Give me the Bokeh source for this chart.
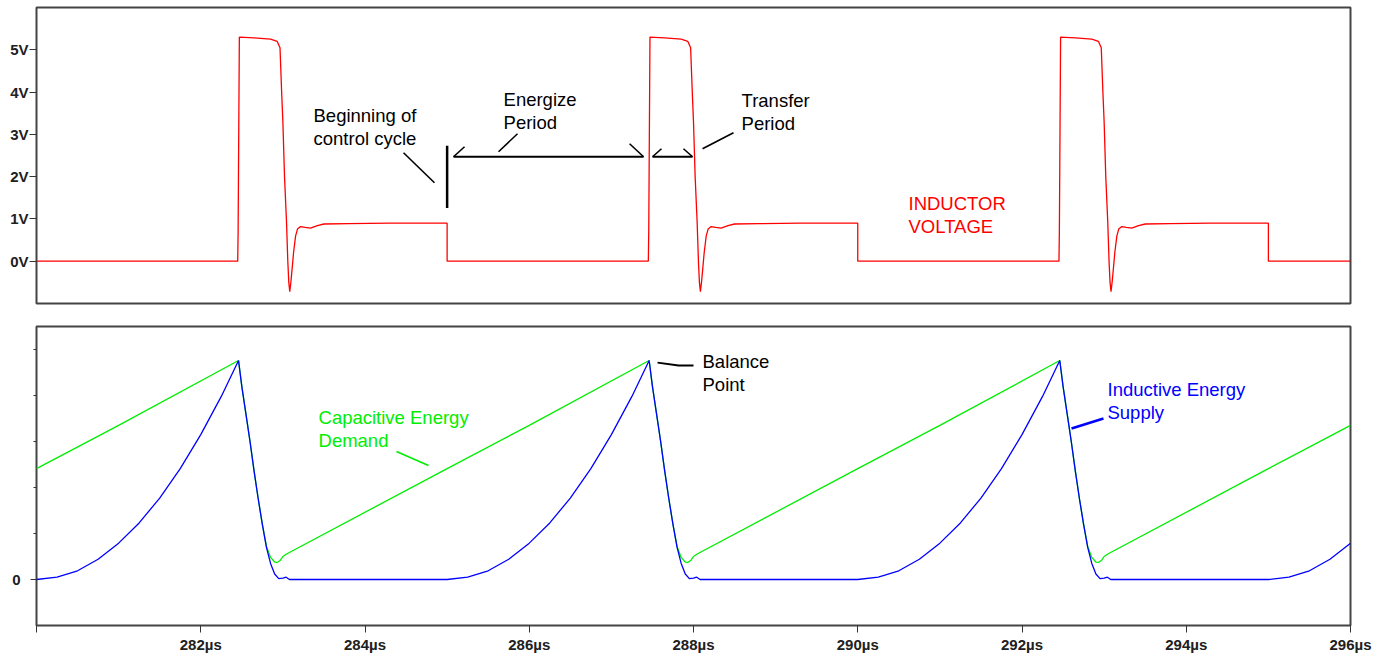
from bokeh.plotting import figure
from bokeh.layouts import column
from bokeh.models import Range1d, FixedTicker, PrintfTickFormatter
from bokeh.core.properties import value
from bokeh.embed import file_html
from bokeh.resources import INLINE

# ---------------- data ----------------
cycle_starts = [280.0, 285.0, 290.0, 295.0]   # beginning of each control cycle (µs)
t_end = 296.0

# inductor voltage over one control cycle (offset in µs from cycle start, volts)
volt_offsets = [0.0, 1.0, 2.45, 2.455, 2.47, 2.65, 2.85, 2.93, 2.965, 2.985, 3.0, 3.02,
                3.044, 3.06, 3.072, 3.084, 3.10, 3.13, 3.155, 3.178, 3.215, 3.27, 3.336,
                3.42, 3.5, 3.8, 4.3, 5.0, 5.0]
volt_values = [0.0, 0.0, 0.0, 0.7, 5.3, 5.28, 5.25, 5.2, 5.05, 4.0, 3.3, 2.0,
               0.94, 0.0, -0.5, -0.72, -0.45, 0.2, 0.6, 0.76, 0.82, 0.8, 0.78,
               0.84, 0.88, 0.89, 0.9, 0.9, 0.0]

# inductive energy supply over one control cycle
ind_offsets = [0.0, 0.25, 0.5, 0.75, 1.0, 1.25, 1.5, 1.75, 2.0, 2.25, 2.46, 2.5, 2.55,
               2.6, 2.65, 2.7, 2.75, 2.8, 2.85, 2.9, 2.95, 3.0, 3.04, 3.08, 5.0]
ind_values = [0.0, 0.05, 0.19, 0.44, 0.79, 1.23, 1.77, 2.41, 3.15, 3.98, 4.76, 4.2, 3.6,
              3.0, 2.35, 1.75, 1.2, 0.7, 0.35, 0.12, 0.02, 0.03, 0.05, 0.0, 0.0]

# capacitive energy demand over one control cycle
cap_offsets = [0.0, 1.0, 2.46, 2.5, 2.55, 2.6, 2.65, 2.7, 2.75, 2.8, 2.85, 2.9, 2.93,
               2.97, 3.0, 3.05, 5.0]
cap_values = [2.41, 3.35, 4.76, 4.2, 3.6, 3.0, 2.35, 1.75, 1.2, 0.72, 0.48, 0.38, 0.37,
              0.42, 0.5, 0.56, 2.41]

volt_ticks = [0, 1, 2, 3, 4, 5]
time_ticks = [280, 282, 284, 286, 288, 290, 292, 294, 296]


def tile(offsets, values):
    ts, vs = [], []
    for c in cycle_starts:
        for o, v in zip(offsets, values):
            if c + o <= t_end + 1e-9:
                ts.append(c + o)
                vs.append(v)
    return ts, vs


vt, vv = tile(volt_offsets, volt_values)
it, iv = tile(ind_offsets, ind_values)
ct, cv = tile(cap_offsets, cap_values)

# ---------------- styling ----------------
FONT_NAME = "Liberation Sans"
FONT = value(FONT_NAME)
FRAME = "#444444"
RED = "#ff0000"
GREEN = "#00ee00"
BLUE = "#0000ff"

xr = Range1d(280, 296)


def make_fig(frame_h, yr, mbt, mbb):
    p = figure(frame_width=1314, frame_height=frame_h, x_range=xr, y_range=yr,
               output_backend="svg", toolbar_location=None,
               min_border_left=36, min_border_right=22,
               min_border_top=mbt, min_border_bottom=mbb,
               background_fill_color="white", border_fill_color="white")
    p.grid.visible = False
    p.outline_line_color = FRAME
    p.outline_line_width = 2
    for ax in (p.xaxis, p.yaxis):
        ax.axis_line_color = None
        ax.major_tick_in = 0
        ax.minor_tick_in = 0
        ax.major_tick_line_color = "#333333"
        ax.minor_tick_line_color = "#333333"
        ax.major_label_text_font = FONT_NAME
        ax.major_label_text_font_style = "bold"
        ax.major_label_text_font_size = "15px"
        ax.major_label_text_color = "#202020"
    return p


def annot(p, x, y, txt, color="black"):
    p.text(x=[x], y=[y], text=[txt], text_font=FONT, text_font_size="18.5px",
           text_color=color, text_baseline="top", text_align="left",
           text_line_height=1.1)


# ---------------- top: inductor voltage ----------------
top = make_fig(296, Range1d(-1, 6), 7, 12)
top.xaxis.visible = False
top.yaxis.ticker = FixedTicker(ticks=volt_ticks, minor_ticks=[])
top.yaxis.formatter = PrintfTickFormatter(format="%dV")
top.yaxis.major_tick_out = 7
top.yaxis.major_label_standoff = 1
top.line(vt, vv, line_color=RED, line_width=1.3)

# annotations
top.segment(x0=[285.0], y0=[2.73], x1=[285.0], y1=[1.26], line_color="black", line_width=2.5)
top.segment(x0=[284.469], y0=[2.565], x1=[284.846], y1=[1.856], line_color="black", line_width=1.6)
top.segment(x0=[285.078, 287.501], y0=[2.47, 2.47], x1=[287.392, 287.988], y1=[2.47, 2.47],
            line_color="black", line_width=2.2)
top.segment(x0=[285.078, 287.392, 287.501, 287.988], y0=[2.47, 2.47, 2.47, 2.47],
            x1=[285.212, 287.222, 287.610, 287.878], y1=[2.707, 2.778, 2.66, 2.66],
            line_color="black", line_width=1.6)
top.segment(x0=[285.857, 288.110], y0=[3.014, 2.660], x1=[285.626, 288.487], y1=[2.589, 3.038],
            line_color="black", line_width=1.6)
annot(top, 283.373, 3.70, "Beginning of\ncontrol cycle")
annot(top, 285.687, 4.07, "Energize\nPeriod")
annot(top, 288.585, 4.04, "Transfer\nPeriod")
annot(top, 290.618, 1.62, "INDUCTOR\nVOLTAGE", RED)

# ---------------- bottom: energies ----------------
bot = make_fig(299, Range1d(-1, 5.5), 11, 0)
bot.yaxis.ticker = FixedTicker(ticks=[0], minor_ticks=[1, 2, 3, 4, 5])
bot.yaxis.major_tick_out = 6
bot.yaxis.minor_tick_out = 3
bot.yaxis.major_label_standoff = 10
bot.xaxis.ticker = FixedTicker(ticks=time_ticks, minor_ticks=[])
bot.xaxis.formatter = PrintfTickFormatter(format="%dµs")
bot.xaxis.major_label_overrides = {280: ""}
bot.xaxis.major_tick_out = 7
bot.xaxis.major_label_standoff = 3

bot.line(ct, cv, line_color=GREEN, line_width=1.3)
bot.line(it, iv, line_color=BLUE, line_width=1.3)

bot.line(x=[287.562, 287.818, 288.0], y=[4.717, 4.652, 4.652], line_color="black", line_width=1.8)
bot.segment(x0=[284.383], y0=[2.783], x1=[284.773], y1=[2.478], line_color=GREEN, line_width=1.6)
bot.segment(x0=[292.992], y0=[3.5], x1=[292.603], y1=[3.283], line_color=BLUE, line_width=2.5)
annot(bot, 288.110, 4.965, "Balance\nPoint")
annot(bot, 283.434, 3.75, "Capacitive Energy\nDemand", GREEN)
annot(bot, 293.041, 4.356, "Inductive Energy\nSupply", BLUE)

layout = column(top, bot, spacing=0)
open("out.html", "w").write(file_html(layout, INLINE))
